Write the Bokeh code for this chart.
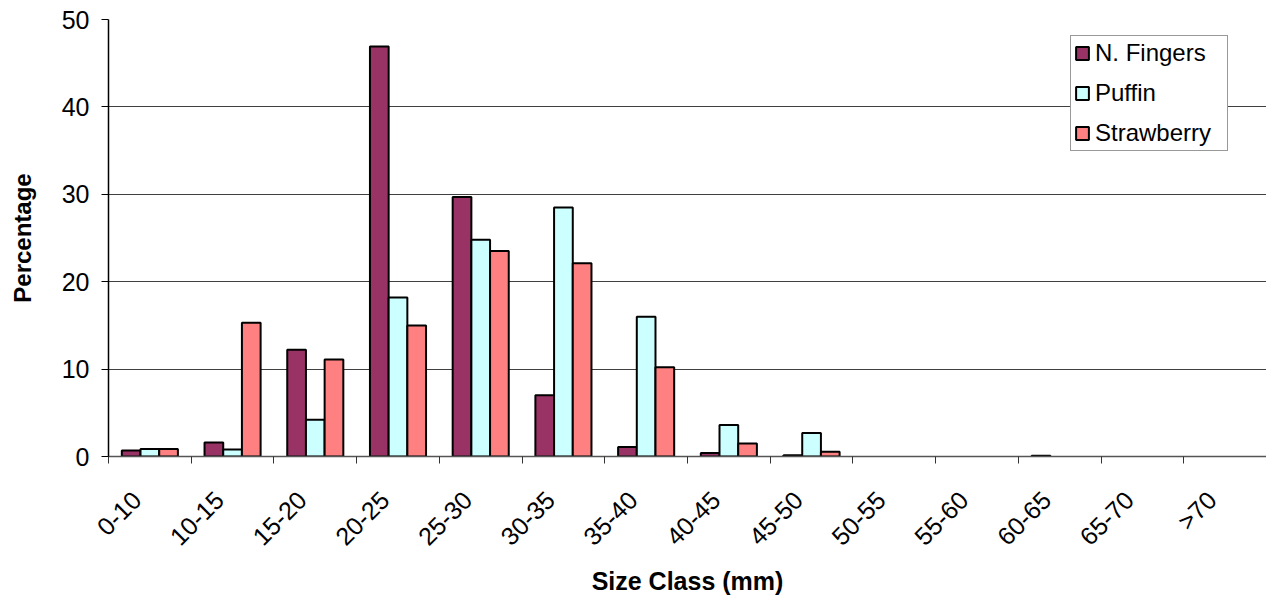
from math import pi
from bokeh.plotting import figure
from bokeh.models import Range1d, FixedTicker, Legend, LegendItem, ColumnDataSource
from bokeh.embed import file_html
from bokeh.resources import INLINE

categories = ["0-10", "10-15", "15-20", "20-25", "25-30", "30-35", "35-40",
              "40-45", "45-50", "50-55", "55-60", "60-65", "65-70", ">70"]
n_fingers = [0.7, 1.6, 12.2, 46.9, 29.7, 7.0, 1.1, 0.4, 0.15, 0, 0, 0.1, 0, 0]
puffin = [0.85, 0.8, 4.2, 18.2, 24.8, 28.5, 16.0, 3.6, 2.7, 0, 0, 0, 0, 0]
strawberry = [0.85, 15.3, 11.1, 15.0, 23.5, 22.1, 10.2, 1.5, 0.55, 0, 0, 0, 0, 0]

series = [("N. Fingers", n_fingers, "#993366"),
          ("Puffin", puffin, "#CCFFFF"),
          ("Strawberry", strawberry, "#FF8080")]

FONT = "Liberation Sans"
n = len(categories)
bw = 0.226
label_shift = 0.16  # rotated labels end slightly left of the category centre

p = figure(width=1266, height=597, output_backend="svg", toolbar_location=None,
           x_range=Range1d(0, n), y_range=Range1d(0, 50),
           min_border_left=108, min_border_right=0, min_border_top=19,
           min_border_bottom=141)
p.outline_line_color = None
p.background_fill_color = "white"
p.border_fill_color = "white"

items = []
for k, (name, vals, col) in enumerate(series):
    xs = [i + 0.5 + (k - 1) * bw for i in range(n)]
    alphas = [1.0 if v > 0 else 0.0 for v in vals]
    src = ColumnDataSource(dict(x=xs, top=vals, la=alphas))
    r = p.vbar(x="x", top="top", bottom=0, width=bw, source=src,
               fill_color=col, line_color="black", line_width=2,
               line_alpha="la")
    items.append(LegendItem(label=name, renderers=[r]))

label_pos = [i + 0.5 - label_shift for i in range(n)]
bounds = list(range(n + 1))
p.xaxis.ticker = FixedTicker(ticks=label_pos, minor_ticks=bounds)
p.xaxis.major_label_overrides = {c: lab for c, lab in zip(label_pos, categories)}
p.xaxis.major_tick_out = 0
p.xaxis.major_tick_in = 0
p.xaxis.minor_tick_out = 7
p.xaxis.minor_tick_in = 0
p.xaxis.minor_tick_line_color = "#333333"
p.xaxis.axis_line_color = "#555555"
p.xaxis.axis_line_width = 1.5
p.xaxis.major_label_orientation = pi / 4
p.xaxis.major_label_text_font = FONT
p.xaxis.major_label_text_font_size = "25px"
p.xaxis.major_label_text_color = "black"
p.xaxis.major_label_standoff = 32
p.xaxis.axis_label = "Size Class (mm)"
p.xaxis.axis_label_text_font = FONT
p.xaxis.axis_label_text_font_size = "25px"
p.xaxis.axis_label_text_font_style = "bold"
p.xaxis.axis_label_text_color = "black"
p.xaxis.axis_label_standoff = 3

p.yaxis.ticker = FixedTicker(ticks=[0, 10, 20, 30, 40, 50])
p.yaxis.minor_tick_line_color = None
p.yaxis.major_tick_out = 7
p.yaxis.major_tick_in = 0
p.yaxis.axis_line_color = "black"
p.yaxis.axis_line_width = 1.5
p.yaxis.major_label_text_font = FONT
p.yaxis.major_label_text_font_size = "25px"
p.yaxis.major_label_text_color = "black"
p.yaxis.major_label_standoff = 12
p.yaxis.axis_label = "Percentage"
p.yaxis.axis_label_text_font = FONT
p.yaxis.axis_label_text_font_size = "24px"
p.yaxis.axis_label_text_font_style = "bold"
p.yaxis.axis_label_text_color = "black"
p.yaxis.axis_label_standoff = 23

p.xgrid.grid_line_color = None
p.ygrid.ticker = FixedTicker(ticks=[10, 20, 30, 40, 50])
p.ygrid.grid_line_color = "#404040"
p.ygrid.grid_line_width = 1

legend = Legend(items=items, location=(962, 305))
legend.border_line_color = "#333333"
legend.border_line_width = 1
legend.background_fill_color = "white"
legend.background_fill_alpha = 1
legend.label_text_font = FONT
legend.label_text_font_size = "24px"
legend.label_text_color = "black"
legend.label_width = 129
legend.glyph_width = 16
legend.glyph_height = 16
legend.spacing = 12
legend.padding = 3
legend.margin = 0
legend.label_standoff = 5
p.add_layout(legend, "center")

open("out.html", "w").write(file_html(p, INLINE))
